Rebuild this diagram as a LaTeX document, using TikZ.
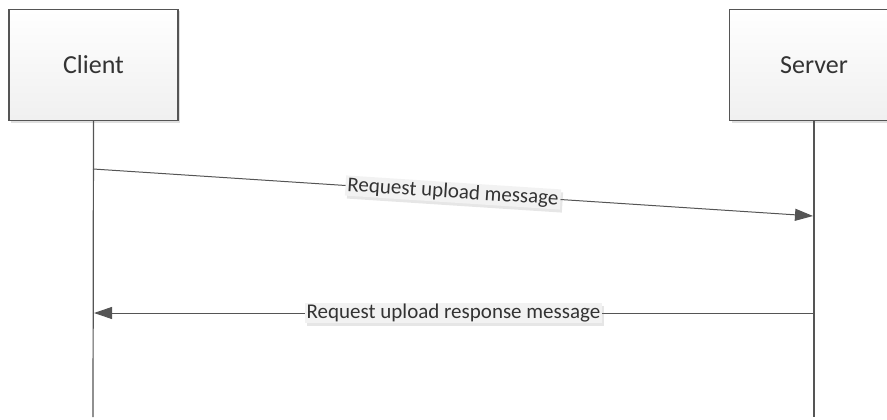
\documentclass[tikz,border=0pt]{standalone}
\usepackage{fontspec}
\setmainfont{Carlito}
\usetikzlibrary{arrows.meta,shadows}
\definecolor{linec}{HTML}{555555}
\definecolor{txtc}{HTML}{333333}
\tikzset{
  actor/.style={draw=linec, line width=1.2pt, top color=white, bottom color=gray!12,
    minimum width=169pt, minimum height=111pt, inner sep=0pt,
    font=\fontsize{26}{30}\selectfont, text=txtc,
    drop shadow={opacity=0.25, shadow xshift=2pt, shadow yshift=-2pt}},
  life/.style={draw=linec, line width=1.2pt},
  msg/.style={draw=linec, line width=1pt, -{Triangle[length=18pt,width=12pt]}},
  lbl/.style={fill=gray!10, text=txtc, inner xsep=2pt, inner ysep=1pt,
    font=\fontsize{21}{24}\selectfont,
    drop shadow={opacity=0.2, shadow xshift=2pt, shadow yshift=-3pt}}
}
\begin{document}
\begin{tikzpicture}[x=1pt,y=-1pt]
\useasboundingbox (0,0) rectangle (887,420);
\begin{scope}
\clip (0,0) rectangle (887,420);
\node[actor] (client) at (93.5,65) {Client};
\node[actor] (server) at (814,65) {Server};
\end{scope}
\coordinate (cend) at (93,417);
\coordinate (send) at (814,417);
\draw[life] (client.south) -- (cend);
\draw[life] (server.south) -- (send);
\coordinate (c1) at (93,169);
\coordinate (s1) at (813,216);
\coordinate (s2) at (813,313);
\coordinate (c2) at (94,313);
\draw[msg] (c1) -- node[lbl, sloped] (m1) {Request upload message} (s1);
\draw[msg] (s2) -- node[lbl] (m2) {Request upload response message} (c2);
\end{tikzpicture}
\end{document}
